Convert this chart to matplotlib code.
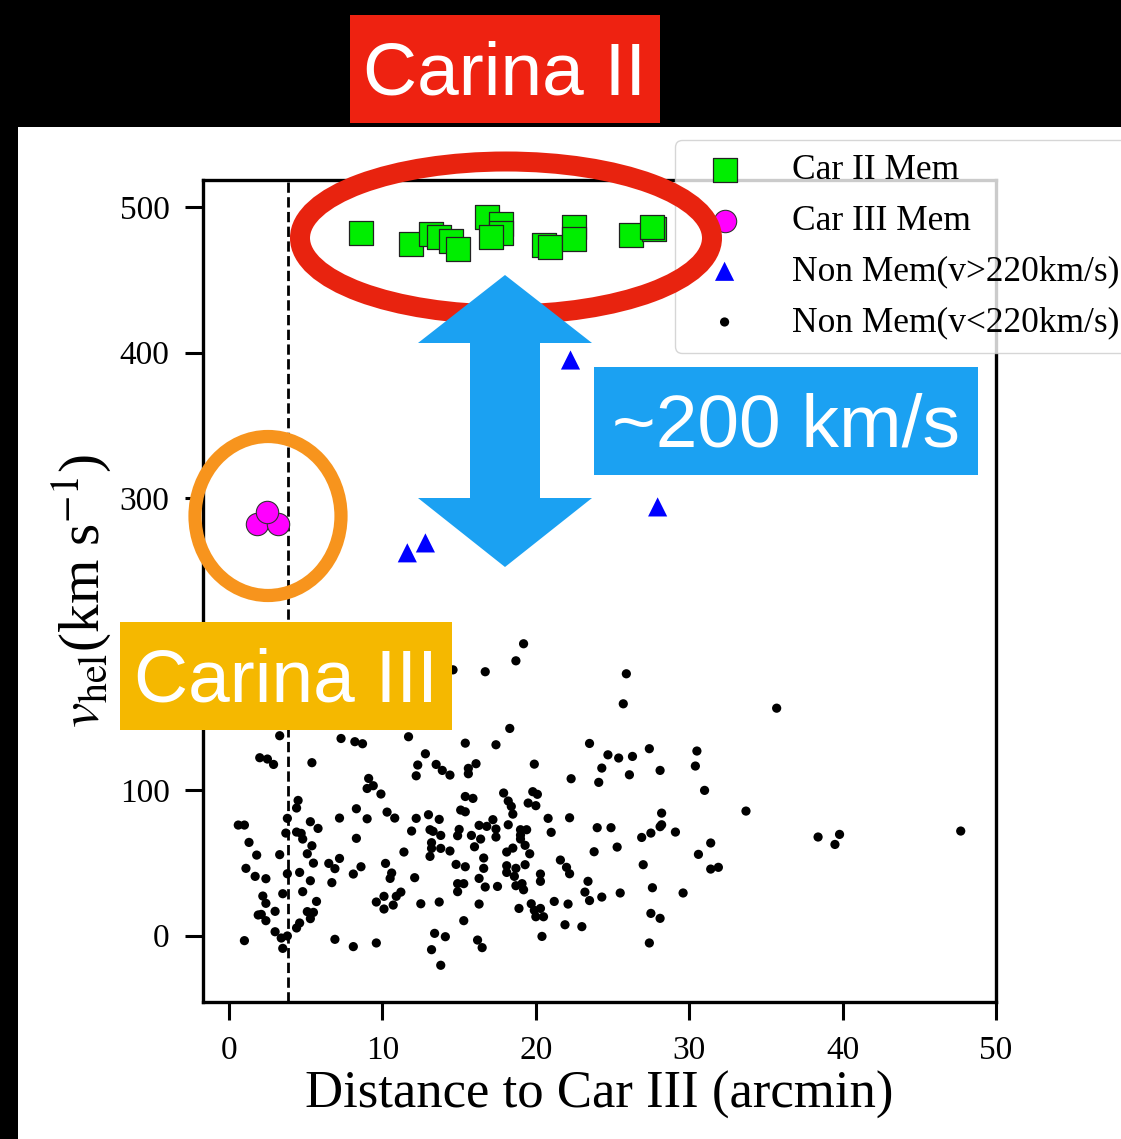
import numpy as np
import matplotlib
matplotlib.use("Agg")
import matplotlib.pyplot as plt
from matplotlib.patches import Rectangle, Ellipse, Polygon

# Car II members: distance (arcmin), heliocentric velocity (km/s)
car2_dist = [8.57, 11.83, 13.14, 13.7, 14.49, 14.93, 16.84, 17.75, 17.75, 17.1,
             20.52, 20.9, 22.5, 22.5, 26.2, 27.7, 27.55]
car2_vel = [482.4, 474.6, 481.5, 479.6, 476.4, 470.9, 492.9, 488.3, 482.0, 479.1,
            473.9, 472.3, 486.0, 477.8, 480.5, 485.0, 486.5]

# Car III members
car3_dist = [1.83, 3.2, 2.48]
car3_vel = [282.6, 282.6, 290.8]

# non-members above 220 km/s
hi_dist = [22.26, 11.62, 12.8, 27.94]
hi_vel = [395.0, 262.7, 269.5, 294.2]

# non-members below 220 km/s
lo_dist = [19.2, 18.7, 16.7, 14.6, 25.9, 25.7, 18.3, 3.3, 7.3, 8.2,
           8.7, 11.7, 15.4, 17.4, 23.5, 27.4, 24.7, 25.4, 26.3, 2.0,
           2.5, 2.9, 5.4, 12.8, 12.3, 12.2, 13.5, 13.9, 14.4, 15.6,
           15.6, 16.1, 19.9, 22.3, 24.3, 24.1, 26.1, 28.1, 9.1, 9.4,
           9.0, 9.9, 15.4, 15.9, 17.9, 18.2, 18.4, 18.5, 19.8, 20.1,
           19.5, 20.0, 4.5, 4.4, 8.3, 9.0, 7.2, 10.3, 10.8, 12.2,
           13.0, 13.7, 15.1, 15.4, 20.8, 22.2, 28.2, 24.0, 24.9, 28.2,
           28.1, 29.1, 27.5, 26.9, 25.3, 23.8, 21.0, 19.0, 19.4, 19.0,
           19.0, 19.3, 19.6, 0.6, 1.0, 1.3, 1.8, 1.1, 1.7, 2.4,
           3.3, 3.8, 3.7, 4.4, 4.7, 4.8, 5.3, 5.8, 5.4, 5.1,
           5.5, 3.8, 4.6, 5.3, 4.8, 5.7, 3.5, 2.2, 2.4, 3.0,
           1.9, 2.1, 2.4, 5.1, 5.5, 5.3, 4.4, 4.6, 3.0, 3.4,
           3.8, 3.5, 1.0, 6.9, 8.1, 9.6, 6.5, 6.9, 7.2, 8.1,
           8.6, 8.3, 6.7, 10.2, 10.6, 10.5, 12.1, 11.4, 11.9, 13.1,
           13.3, 13.8, 13.2, 13.2, 13.1, 13.8, 14.4, 15.0, 14.9, 14.8,
           15.4, 15.8, 16.0, 16.4, 16.3, 16.8, 17.2, 17.4, 17.4, 16.6,
           16.6, 16.3, 16.7, 17.5, 18.2, 18.5, 18.1, 18.1, 18.7, 18.1,
           18.6, 19.1, 18.7, 19.3, 19.2, 14.9, 15.3, 14.9, 16.3, 15.3,
           13.7, 12.5, 11.2, 10.9, 10.1, 9.6, 10.1, 10.7, 13.4, 14.1,
           13.2, 13.8, 16.2, 16.5, 18.9, 19.7, 19.9, 20.3, 20.0, 20.5,
           20.4, 21.2, 22.1, 21.9, 23.0, 20.3, 20.3, 21.6, 22.0, 22.2,
           23.4, 23.2, 23.5, 24.3, 25.5, 27.0, 27.6, 27.5, 28.1, 27.4,
           29.6, 35.7, 30.5, 30.4, 31.0, 33.7, 38.4, 39.8, 39.5, 47.7,
           31.4, 30.6, 31.4, 31.9]
lo_vel = [200.3, 188.6, 181.1, 182.4, 179.7, 159.1, 142.2, 137.2, 135.3, 133.1,
          131.7, 136.5, 132.1, 131.0, 131.9, 128.3, 124.1, 121.9, 123.0, 122.1,
          121.2, 117.5, 118.7, 124.8, 117.1, 109.7, 117.5, 113.4, 110.2, 114.8,
          111.1, 118.0, 117.7, 107.7, 115.0, 105.2, 110.4, 113.4, 107.9, 102.9,
          101.0, 97.2, 95.5, 94.2, 97.9, 92.4, 88.7, 83.4, 98.8, 97.0,
          91.0, 89.2, 92.8, 87.6, 87.1, 80.2, 80.7, 84.8, 80.7, 80.5,
          83.0, 79.8, 86.2, 85.0, 80.5, 80.9, 84.1, 74.1, 74.1, 76.1,
          74.8, 71.1, 70.4, 67.4, 60.8, 57.6, 70.9, 72.7, 72.7, 69.0,
          66.3, 62.0, 56.2, 75.9, 75.9, 64.0, 55.3, 46.2, 40.7, 39.1,
          55.6, 80.5, 70.4, 71.1, 70.2, 66.3, 78.2, 73.6, 61.7, 56.2,
          49.8, 42.5, 43.4, 37.7, 30.2, 23.5, 28.8, 27.2, 22.2, 16.7,
          14.2, 14.6, 10.3, 16.5, 16.0, 11.7, 5.3, 8.7, 2.7, -1.6,
          -0.2, -8.7, -3.4, -2.5, -7.5, -5.0, 49.6, 46.0, 53.0, 42.3,
          47.3, 66.8, 36.4, 49.6, 43.0, 39.3, 39.8, 57.4, 71.8, 72.7,
          71.6, 68.8, 63.8, 59.9, 54.4, 59.9, 58.1, 72.9, 68.6, 48.9,
          47.3, 68.8, 61.0, 66.3, 75.7, 75.0, 79.6, 73.2, 67.7, 53.3,
          46.2, 39.3, 33.4, 33.8, 76.1, 60.1, 57.4, 48.0, 46.2, 43.4,
          40.7, 35.7, 34.3, 48.7, 31.5, 35.7, 35.7, 30.2, 21.7, 10.3,
          23.1, 21.9, 29.9, 27.0, 27.0, 23.1, 18.3, 21.0, 1.6, -0.7,
          -9.6, -20.3, -3.0, -8.2, 18.7, 21.9, 17.4, 18.7, 13.0, 13.0,
          -0.5, 23.5, 21.7, 7.5, 6.2, 42.3, 37.3, 51.9, 46.9, 42.5,
          37.3, 29.9, 24.1, 26.5, 29.3, 48.7, 32.9, 15.3, 11.9, -5.0,
          29.3, 156.1, 126.7, 116.4, 99.7, 85.5, 67.7, 69.5, 62.6, 71.8,
          63.6, 55.8, 45.7, 46.9]

car3_radius = 3.85  # dashed line marking Car III

W, H = 1121, 1139

plt.rcParams["font.family"] = ["Liberation Serif", "DejaVu Serif"]
plt.rcParams["mathtext.fontset"] = "stix"

fig = plt.figure(figsize=(W / 100, H / 100), dpi=100, facecolor="black")

# white slide panel behind the plot
fig.add_artist(Rectangle((18 / W, 0), 1, 1 - 127 / H, transform=fig.transFigure,
                         facecolor="white", edgecolor="none", zorder=-1))

ax = fig.add_axes([203 / W, 1 - 1002 / H, (996 - 203) / W, (1002 - 180) / H])
ax.scatter(lo_dist, lo_vel, s=44, c="black", edgecolors="none",
           label="Non Mem(v<220km/s)", zorder=2)
ax.scatter(hi_dist, hi_vel, s=190, marker="^", c="blue", edgecolors="none",
           label="Non Mem(v>220km/s)", zorder=3)
ax.scatter(car3_dist, car3_vel, s=260, c="magenta", edgecolors="#333333",
           linewidths=0.8, label="Car III Mem", zorder=4)
ax.scatter(car2_dist, car2_vel, s=290, marker="s", c="#00EE00", edgecolors="#222222",
           linewidths=0.9, label="Car II Mem", zorder=4)
ax.axvline(car3_radius, color="black", ls="--", lw=2.0, zorder=1)

ax.set_xlim(-1.7, 50)
ax.set_ylim(-45.5, 518.5)
ax.set_xticks([0, 10, 20, 30, 40, 50])
ax.set_yticks([0, 100, 200, 300, 400, 500])
ax.tick_params(labelsize=24, length=13, width=2.2, pad=11)
for sp in ax.spines.values():
    sp.set_linewidth(2.4)
ax.set_xlabel("Distance to Car III (arcmin)", fontsize=38, labelpad=4)
ax.set_ylabel(r"$v_{\rm hel}$(km s$^{-1}$)", fontsize=41, labelpad=4)

handles, labels = ax.get_legend_handles_labels()
order = [3, 2, 1, 0]
ax.legend([handles[i] for i in order], [labels[i] for i in order],
          loc="upper left", bbox_to_anchor=(675 / W, 1 - 140 / H),
          bbox_transform=fig.transFigure, borderaxespad=0, fontsize=25.5,
          labelspacing=0.5, handletextpad=0.9)

# annotation layer in pixel units
ov = fig.add_axes([0, 0, 1, 1], zorder=5)
ov.set_xlim(0, W)
ov.set_ylim(H, 0)
ov.axis("off")
ov.patch.set_alpha(0)

ov.add_patch(Ellipse((506, 238), 412, 153, fill=False, edgecolor="#E8230F", lw=14.4))
ov.add_patch(Ellipse((268, 516), 146, 159, fill=False, edgecolor="#F7941D", lw=9.5))

arrow = [(505, 275), (592, 343), (540, 343), (540, 498), (592, 498), (505, 567),
         (418, 498), (470, 498), (470, 343), (418, 343)]
ov.add_patch(Polygon(arrow, closed=True, facecolor="#1BA1F2", edgecolor="none"))


def label_box(x0, y0, x1, y1, color, text):
    ov.add_patch(Rectangle((x0, y0), x1 - x0, y1 - y0, facecolor=color, edgecolor="none"))
    ov.text((x0 + x1) / 2, (y0 + y1) / 2 + 6, text, color="white", fontsize=54,
            family=["Liberation Sans", "DejaVu Sans"], ha="center", va="center")


label_box(350, 15, 660, 123, "#EE2211", "Carina II")
label_box(594, 367, 978, 475, "#1BA1F2", "~200 km/s")
label_box(120, 622, 452, 730, "#F5B800", "Carina III")

fig.savefig("out.png", dpi=100, facecolor=fig.get_facecolor())
